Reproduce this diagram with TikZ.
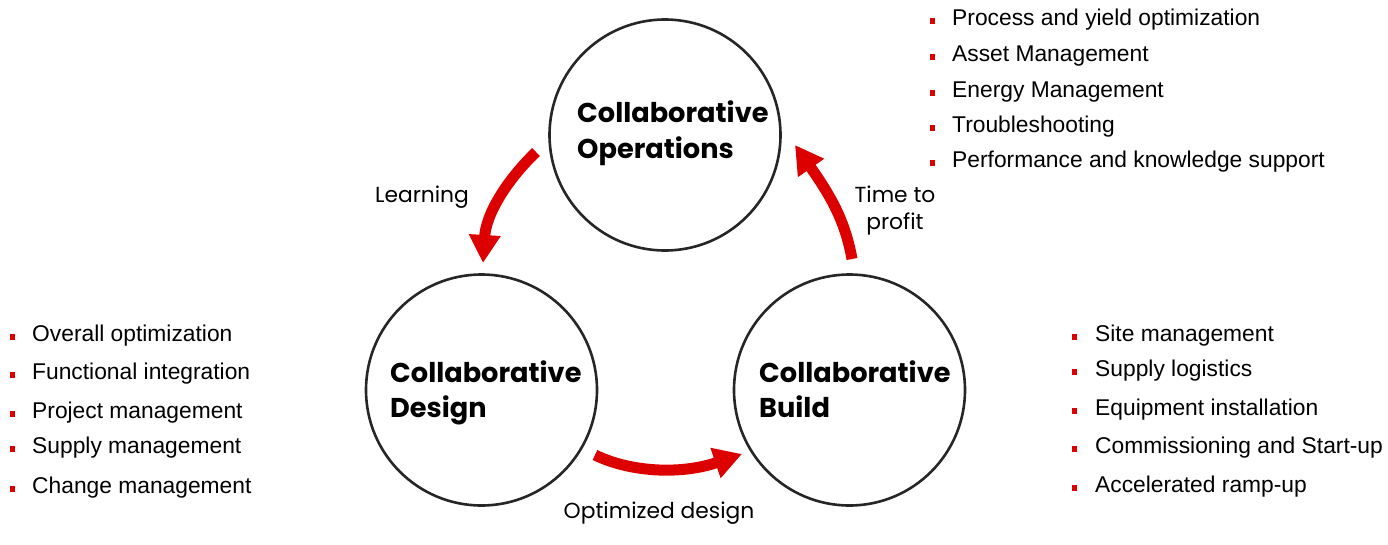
\documentclass[tikz,border=0pt]{standalone}
\usepackage{fontspec}
\setmainfont{Liberation Sans}
\newfontfamily\pop{Poppins}
\usetikzlibrary{arrows.meta}
\definecolor{abbred}{HTML}{DD0000}
\definecolor{ringgray}{HTML}{262626}
\begin{document}
\begin{tikzpicture}[x=1pt,y=-1pt,
  ring/.style={circle,draw=ringgray,line width=2.6pt,minimum size=231pt,inner sep=0},
  ttl/.style={anchor=base west,inner sep=0,font=\pop\bfseries\fontsize{27.2}{32}\selectfont},
  lbl/.style={anchor=base,inner sep=0,font=\pop\fontsize{21.8}{26}\selectfont},
  itm/.style={anchor=base west,inner sep=0,font=\fontsize{22.8}{27}\selectfont},
  bul/.style={fill=abbred,minimum width=5pt,minimum height=6pt,inner sep=0},
  flow/.style={draw=abbred,line width=11pt,-{Triangle[width=30pt,length=28pt]}}]
\useasboundingbox (0,0) rectangle (1388,544);
% circles
\node[ring] (ops) at (665,135) {};
\node[ring] (des) at (481.5,390) {};
\node[ring] (bld) at (849.5,390) {};
% titles
\node[ttl] (opsA) at (577,122) {Collaborative};
\node[ttl] (opsB) at (577,158) {Operations};
\node[ttl] (desA) at (390,382) {Collaborative};
\node[ttl] (desB) at (390,417) {Design};
\node[ttl] (bldA) at (759,382) {Collaborative};
\node[ttl] (bldB) at (759,417) {Build};
% arrows
\coordinate (l1) at (536,152); \coordinate (l2) at (483,263);
\draw[flow] (l1) .. controls (505,182) and (486,215) .. (l2);
\coordinate (o1) at (595,455); \coordinate (o2) at (742,454);
\draw[flow] (o1) .. controls (630,472) and (680,475) .. (o2);
\coordinate (t1) at (852,259); \coordinate (t2) at (795,145);
\draw[flow] (t1) .. controls (845,220) and (830,195) .. (t2);
% arrow labels
\node[lbl] (learn) at (422,202) {Learning};
\node[lbl] (ttp1) at (895,202) {Time to};
\node[lbl] (ttp2) at (895,229) {profit};
\node[lbl] (optd) at (659,518) {Optimized design};
% top list
\foreach \y/\t [count=\i] in {25/Process and yield optimization,61/Asset Management,97/Energy Management,132/Troubleshooting,167/Performance and knowledge support}{
  \node[bul] (tb\i) at (932,\y-4.5) {};
  \node[itm] (ti\i) at (952,\y) {\t};
}
% left list
\foreach \y/\t [count=\i] in {341/Overall optimization,379/Functional integration,418/Project management,453/Supply management,493/Change management}{
  \node[bul] (lb\i) at (12,\y-4.5) {};
  \node[itm] (li\i) at (32,\y) {\t};
}
% right list
\foreach \y/\t [count=\i] in {341/Site management,376/Supply logistics,415/Equipment installation,453/Commissioning and Start-up,492/Accelerated ramp-up}{
  \node[bul] (rb\i) at (1074,\y-4.5) {};
  \node[itm] (ri\i) at (1095,\y) {\t};
}
\end{tikzpicture}
\end{document}
